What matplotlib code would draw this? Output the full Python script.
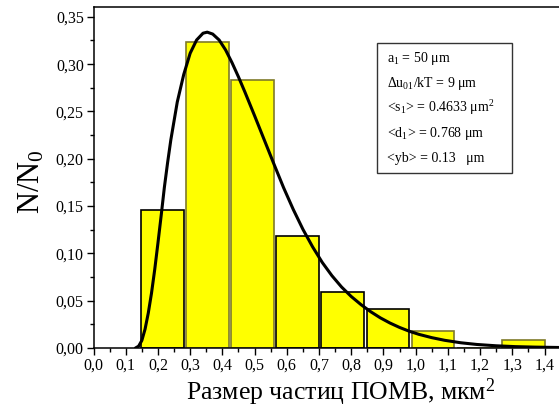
import matplotlib
matplotlib.use("Agg")
import matplotlib.pyplot as plt
from matplotlib.ticker import MultipleLocator, FuncFormatter
from matplotlib.patches import Rectangle

# ── Данные ──────────────────────────────────────────────────
bin_centers = [0.214, 0.354, 0.494, 0.634, 0.774, 0.914, 1.054, 1.194, 1.334]
bin_heights = [0.146, 0.323, 0.283, 0.118, 0.059, 0.041, 0.018, 0.0, 0.009]

# кривая аппроксимации
fit_x = [0.13, 0.14, 0.15, 0.16, 0.17, 0.18, 0.19, 0.20, 0.21, 0.22,
         0.23, 0.24, 0.26, 0.28, 0.30, 0.32, 0.34, 0.353, 0.37, 0.39,
         0.41, 0.43, 0.45, 0.47, 0.50, 0.53, 0.56, 0.59, 0.62, 0.65,
         0.68, 0.71, 0.74, 0.77, 0.80, 0.83, 0.86, 0.89, 0.92, 0.95,
         0.98, 1.01, 1.05, 1.09, 1.14, 1.19, 1.25, 1.31, 1.37, 1.445]
fit_y = [0.0, 0.002, 0.008, 0.020, 0.037, 0.058, 0.083, 0.111, 0.140, 0.170,
         0.196, 0.220, 0.260, 0.289, 0.3115, 0.3255, 0.3327, 0.3338, 0.3318, 0.3255,
         0.315, 0.3015, 0.2865, 0.2705, 0.2455, 0.220, 0.1945, 0.1695, 0.1465, 0.1255,
         0.107, 0.0905, 0.0765, 0.0645, 0.0545, 0.046, 0.0385, 0.032, 0.0265, 0.0218,
         0.0178, 0.0145, 0.0110, 0.0082, 0.0056, 0.0038, 0.0024, 0.0015, 0.0010, 0.0006]

info_lines = [
    r"a$_1$ = 50 μm",
    r"Δu$_{01}$/kT = 9 μm",
    r"<s$_1$> = 0.4633 μm$^2$",
    r"<d$_1$> = 0.768 μm",
    r"<yb> = 0.13   μm",
]

# ── Стиль ──────────────────────────────────────────────────
plt.rcParams["font.family"] = ["Liberation Serif", "DejaVu Serif"]
plt.rcParams["mathtext.fontset"] = "custom"
plt.rcParams["mathtext.rm"] = "Liberation Serif"
plt.rcParams["mathtext.it"] = "Liberation Serif:italic"
plt.rcParams["mathtext.default"] = "rm"

OLIVE = "#7f7a2a"
edge_colors = ["black", OLIVE, OLIVE, "black", "black", "black", OLIVE, OLIVE, OLIVE]

fig = plt.figure(figsize=(5.59, 4.09), dpi=100)
ax = fig.add_axes([0.1673, 0.149, 0.8327, 0.833])

ax.bar(bin_centers, bin_heights, width=0.133, color="#ffff00",
       edgecolor=edge_colors, linewidth=1.2, zorder=2)
ax.plot(fit_x, fit_y, color="black", linewidth=2.2, zorder=3,
        solid_capstyle="round", solid_joinstyle="round")

ax.set_xlim(0, 1.445)
ax.set_ylim(0, 0.36)

ax.xaxis.set_major_locator(MultipleLocator(0.1))
ax.xaxis.set_minor_locator(MultipleLocator(0.05))
ax.yaxis.set_major_locator(MultipleLocator(0.05))
ax.yaxis.set_minor_locator(MultipleLocator(0.025))
ax.xaxis.set_major_formatter(FuncFormatter(lambda v, p: f"{v:.1f}".replace(".", ",")))
ax.yaxis.set_major_formatter(FuncFormatter(lambda v, p: f"{v:.2f}".replace(".", ",")))

ax.spines["right"].set_visible(False)
for s in ("left", "bottom", "top"):
    ax.spines[s].set_linewidth(1.1)

ax.tick_params(which="both", direction="out", labelsize=11.5, width=1.0,
               top=False, right=False)
ax.tick_params(which="major", length=5, pad=2)
ax.tick_params(which="minor", length=3)

ax.set_ylabel(r"N/N$_0$", fontsize=22, va="center", ha="center")
ax.yaxis.set_label_coords(-0.132, 0.487)
ax.set_xlabel(r"Размер частиц ПОМВ, мкм$^2$", fontsize=18.5, va="baseline")
ax.xaxis.set_label_coords(0.532, -0.153)

# ── Блок с параметрами ─────────────────────────────────────
ax.add_patch(Rectangle((0.881, 0.1847), 0.418, 0.1373, fill=False,
                       edgecolor="#333333", linewidth=1.0, zorder=4))
for i, line in enumerate(info_lines):
    ax.text(0.910, 0.302 - i * 0.0263, line, fontsize=10, va="baseline",
            ha="left", zorder=5)

fig.savefig("out.png", dpi=100)
